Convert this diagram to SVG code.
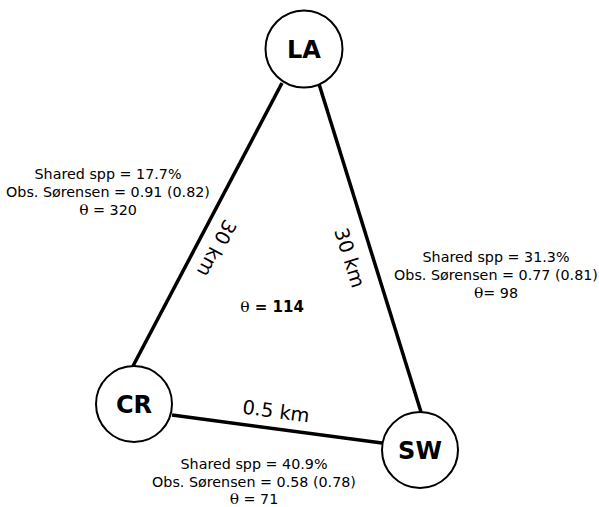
<svg xmlns="http://www.w3.org/2000/svg" width="599" height="507" viewBox="0 0 599 507">
<style>
.node{fill:#fff;stroke:#000;stroke-width:2}
.nl{font-family:"DejaVu Sans",sans-serif;font-weight:bold;font-size:24px;text-anchor:middle}
.edge{stroke:#000;stroke-width:3.5;fill:none}
.el{font-family:"DejaVu Sans",sans-serif;font-size:19.5px;text-anchor:middle}
.lab{font-family:"DejaVu Sans",sans-serif;font-size:14.3px;text-anchor:middle}
.th{font-family:"DejaVu Serif",serif;font-size:15.5px}
.mid{font-family:"DejaVu Sans",sans-serif;font-size:15px;font-weight:bold;text-anchor:middle}
</style>
<rect width="599" height="507" fill="#fff"/>
<g id="connectors">
<line class="edge" x1="282" y1="83" x2="133" y2="366"/>
<line class="edge" x1="319" y1="84" x2="421" y2="412"/>
<line class="edge" x1="172" y1="415" x2="382" y2="443"/>
<text class="el" transform="translate(216,248) rotate(117.8)" dy="6">30 km</text>
<text class="el" transform="translate(349,258) rotate(72.6)" dy="6">30 km</text>
<text class="el" transform="translate(276,412) rotate(7.6)" dy="6">0.5 km</text>
</g>
<g id="LA"><circle class="node" cx="304" cy="49" r="38.5"/><text class="nl" x="304" y="58">LA</text></g>
<g id="CR"><circle class="node" cx="134" cy="404" r="38"/><text class="nl" x="134" y="413">CR</text></g>
<g id="SW"><circle class="node" cx="420" cy="450" r="38"/><text class="nl" x="420" y="459">SW</text></g>
<g id="labels">
<text class="lab" x="108" y="179">Shared spp = 17.7%</text>
<text class="lab" x="108" y="197">Obs. Sørensen = 0.91 (0.82)</text>
<text class="lab" x="108" y="215"><tspan class="th">θ</tspan> = 320</text>
<text class="lab" x="496" y="262">Shared spp = 31.3%</text>
<text class="lab" x="496" y="280">Obs. Sørensen = 0.77 (0.81)</text>
<text class="lab" x="496" y="298"><tspan class="th">θ</tspan>= 98</text>
<text class="lab" x="254" y="469">Shared spp = 40.9%</text>
<text class="lab" x="254" y="487">Obs. Sørensen = 0.58 (0.78)</text>
<text class="lab" x="254" y="504"><tspan class="th">θ</tspan> = 71</text>
<text class="mid" x="272" y="312"><tspan class="th" font-weight="normal" font-size="17">θ</tspan> = 114</text>
</g>
</svg>
